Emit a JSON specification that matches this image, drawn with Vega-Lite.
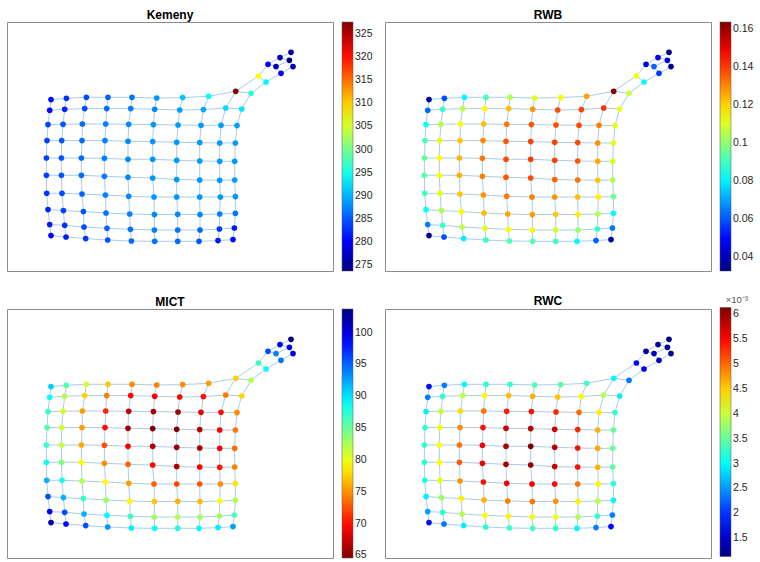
{
"$schema":"https://vega.github.io/schema/vega-lite/v6.json",
"padding":{"left":6,"top":8,"right":0,"bottom":0},
"config":{
 "view":{"stroke":"#8c8c8c","strokeWidth":1},
 "font":"Liberation Sans",
 "title":{"fontSize":12,"fontWeight":"bold","color":"#000000","offset":0},
 "legend":{"gradientLength":249,"gradientThickness":11,"labelFontSize":10.5,"labelColor":"#262626","labelOffset":4,"offset":9,"padding":0,"labelOverlap":false,"labelBaseline":"middle","gradientStrokeColor":"#555555","gradientStrokeWidth":0.5}
},
"datasets":{"nodes":[
{"r":1,"c":1,"x":44,"y":171.4,"kem":281.2,"rwb":0.0351,"mict":90.8,"rwc":0.00183},
{"r":1,"c":2,"x":59.4,"y":172.7,"kem":282.9,"rwb":0.0587,"mict":86.1,"rwc":0.00238},
{"r":1,"c":3,"x":79.4,"y":173.7,"kem":284.5,"rwb":0.081,"mict":81.0,"rwc":0.00298},
{"r":1,"c":4,"x":101,"y":173.7,"kem":285.6,"rwb":0.0915,"mict":77.1,"rwc":0.00323},
{"r":1,"c":5,"x":125,"y":173.7,"kem":286.6,"rwb":0.1047,"mict":74.8,"rwc":0.00328},
{"r":1,"c":6,"x":149.7,"y":173,"kem":288.3,"rwb":0.1112,"mict":74.4,"rwc":0.00338},
{"r":1,"c":7,"x":175.7,"y":173.4,"kem":290.9,"rwb":0.1152,"mict":74.8,"rwc":0.00343},
{"r":1,"c":8,"x":201.7,"y":174.7,"kem":294.2,"rwb":0.127,"mict":75.5,"rwc":0.00333},
{"r":1,"c":9,"x":228.7,"y":179.7,"kem":327.6,"rwb":0.1637,"mict":77.5,"rwc":0.00298},
{"r":1,"c":10,"x":244,"y":177.7,"kem":296.3,"rwb":0.1073,"mict":82.2,"rwc":0.00233},
{"r":2,"c":1,"x":42.7,"y":160.7,"kem":280.7,"rwb":0.0627,"mict":88.8,"rwc":0.00238},
{"r":2,"c":2,"x":57.7,"y":161.7,"kem":282.3,"rwb":0.0889,"mict":82.2,"rwc":0.00323},
{"r":2,"c":3,"x":77.7,"y":162.4,"kem":284.5,"rwb":0.106,"mict":77.5,"rwc":0.00394},
{"r":2,"c":4,"x":99.7,"y":162.4,"kem":286.1,"rwb":0.1152,"mict":74.4,"rwc":0.00429},
{"r":2,"c":5,"x":123.7,"y":162.4,"kem":287.2,"rwb":0.123,"mict":69.7,"rwc":0.00459},
{"r":2,"c":6,"x":147.7,"y":161.7,"kem":287.7,"rwb":0.1283,"mict":69.3,"rwc":0.00464},
{"r":2,"c":7,"x":172.7,"y":161,"kem":288.8,"rwb":0.1375,"mict":69.7,"rwc":0.00454},
{"r":2,"c":8,"x":196.4,"y":161.4,"kem":289.3,"rwb":0.1388,"mict":70.1,"rwc":0.00429},
{"r":2,"c":9,"x":218.7,"y":163,"kem":292.0,"rwb":0.1414,"mict":74.0,"rwc":0.00389},
{"r":2,"c":10,"x":234.7,"y":162,"kem":292.6,"rwb":0.1112,"mict":77.9,"rwc":0.00293},
{"r":3,"c":1,"x":41,"y":146.4,"kem":283.9,"rwb":0.0824,"mict":86.9,"rwc":0.00293},
{"r":3,"c":2,"x":56,"y":146.7,"kem":285.0,"rwb":0.1047,"mict":81.0,"rwc":0.00394},
{"r":3,"c":3,"x":75.4,"y":147,"kem":286.1,"rwb":0.1152,"mict":75.5,"rwc":0.00444},
{"r":3,"c":4,"x":98.7,"y":147,"kem":287.2,"rwb":0.123,"mict":70.9,"rwc":0.00494},
{"r":3,"c":5,"x":121.7,"y":146.7,"kem":287.7,"rwb":0.1322,"mict":67.3,"rwc":0.00539},
{"r":3,"c":6,"x":146.4,"y":146.4,"kem":288.3,"rwb":0.1361,"mict":66.2,"rwc":0.00544},
{"r":3,"c":7,"x":171,"y":146,"kem":288.5,"rwb":0.1375,"mict":65.8,"rwc":0.00534},
{"r":3,"c":8,"x":194,"y":145.7,"kem":288.5,"rwb":0.1375,"mict":68.5,"rwc":0.00499},
{"r":3,"c":9,"x":214,"y":145.7,"kem":288.8,"rwb":0.1309,"mict":70.1,"rwc":0.00434},
{"r":3,"c":10,"x":230,"y":145.4,"kem":288.8,"rwb":0.1112,"mict":74.8,"rwc":0.00323},
{"r":4,"c":1,"x":40,"y":130.4,"kem":283.9,"rwb":0.0915,"mict":86.1,"rwc":0.00323},
{"r":4,"c":2,"x":54.7,"y":130.4,"kem":285.0,"rwb":0.1112,"mict":81.0,"rwc":0.00424},
{"r":4,"c":3,"x":75,"y":130.4,"kem":286.1,"rwb":0.1217,"mict":75.5,"rwc":0.00484},
{"r":4,"c":4,"x":98,"y":130.4,"kem":287.2,"rwb":0.1296,"mict":70.1,"rwc":0.00544},
{"r":4,"c":5,"x":121,"y":129.7,"kem":287.7,"rwb":0.1361,"mict":66.2,"rwc":0.00579},
{"r":4,"c":6,"x":145.7,"y":129.4,"kem":288.3,"rwb":0.1388,"mict":64.6,"rwc":0.00584},
{"r":4,"c":7,"x":169.7,"y":128.7,"kem":288.5,"rwb":0.1388,"mict":64.6,"rwc":0.00579},
{"r":4,"c":8,"x":192.7,"y":128.4,"kem":288.5,"rwb":0.1375,"mict":66.6,"rwc":0.00534},
{"r":4,"c":9,"x":212.7,"y":128,"kem":288.5,"rwb":0.1283,"mict":69.3,"rwc":0.00464},
{"r":4,"c":10,"x":228.4,"y":128,"kem":288.5,"rwb":0.1112,"mict":74.0,"rwc":0.00348},
{"r":5,"c":1,"x":39.4,"y":113,"kem":283.9,"rwb":0.0942,"mict":86.9,"rwc":0.00323},
{"r":5,"c":2,"x":54.4,"y":113,"kem":285.0,"rwb":0.1138,"mict":81.4,"rwc":0.00424},
{"r":5,"c":3,"x":74.4,"y":113,"kem":286.1,"rwb":0.1243,"mict":75.9,"rwc":0.00494},
{"r":5,"c":4,"x":97.4,"y":112.7,"kem":287.2,"rwb":0.1322,"mict":72.4,"rwc":0.00554},
{"r":5,"c":5,"x":121,"y":111.7,"kem":287.7,"rwb":0.1375,"mict":69.3,"rwc":0.00594},
{"r":5,"c":6,"x":145.7,"y":111.7,"kem":288.3,"rwb":0.1401,"mict":66.2,"rwc":0.00614},
{"r":5,"c":7,"x":169.7,"y":110.7,"kem":288.5,"rwb":0.1388,"mict":65.4,"rwc":0.00584},
{"r":5,"c":8,"x":192.7,"y":110,"kem":288.5,"rwb":0.1361,"mict":66.2,"rwc":0.00544},
{"r":5,"c":9,"x":212.7,"y":109.7,"kem":288.5,"rwb":0.1257,"mict":69.3,"rwc":0.00469},
{"r":5,"c":10,"x":227.7,"y":109.7,"kem":288.5,"rwb":0.1086,"mict":73.6,"rwc":0.00353},
{"r":6,"c":1,"x":39.4,"y":95.7,"kem":283.9,"rwb":0.0929,"mict":88.5,"rwc":0.00323},
{"r":6,"c":2,"x":54.4,"y":95.7,"kem":285.0,"rwb":0.1138,"mict":84.2,"rwc":0.00424},
{"r":6,"c":3,"x":74.4,"y":95.7,"kem":286.1,"rwb":0.1243,"mict":79.1,"rwc":0.00504},
{"r":6,"c":4,"x":97.4,"y":94.7,"kem":287.2,"rwb":0.1309,"mict":74.8,"rwc":0.00554},
{"r":6,"c":5,"x":121,"y":93.7,"kem":287.7,"rwb":0.1361,"mict":73.2,"rwc":0.00594},
{"r":6,"c":6,"x":145.7,"y":93,"kem":288.3,"rwb":0.1375,"mict":69.7,"rwc":0.00599},
{"r":6,"c":7,"x":169.7,"y":91.4,"kem":288.5,"rwb":0.1348,"mict":66.2,"rwc":0.00579},
{"r":6,"c":8,"x":192.7,"y":91,"kem":288.5,"rwb":0.1322,"mict":69.3,"rwc":0.00544},
{"r":6,"c":9,"x":212.7,"y":90.7,"kem":288.5,"rwb":0.1217,"mict":70.1,"rwc":0.00464},
{"r":6,"c":10,"x":227.7,"y":91,"kem":288.5,"rwb":0.1047,"mict":74.4,"rwc":0.00348},
{"r":7,"c":1,"x":39.7,"y":77.7,"kem":283.4,"rwb":0.0902,"mict":92.0,"rwc":0.00318},
{"r":7,"c":2,"x":55,"y":77.7,"kem":284.5,"rwb":0.1112,"mict":88.1,"rwc":0.00414},
{"r":7,"c":3,"x":75,"y":77,"kem":285.6,"rwb":0.1217,"mict":82.2,"rwc":0.00479},
{"r":7,"c":4,"x":98.4,"y":76,"kem":287.2,"rwb":0.1283,"mict":79.1,"rwc":0.00544},
{"r":7,"c":5,"x":121.7,"y":74.7,"kem":287.7,"rwb":0.1322,"mict":75.5,"rwc":0.00554},
{"r":7,"c":6,"x":147,"y":74,"kem":288.3,"rwb":0.1309,"mict":73.2,"rwc":0.00554},
{"r":7,"c":7,"x":169.7,"y":74,"kem":288.3,"rwb":0.1283,"mict":72.4,"rwc":0.00549},
{"r":7,"c":8,"x":192.7,"y":74,"kem":288.3,"rwb":0.123,"mict":72.8,"rwc":0.00494},
{"r":7,"c":9,"x":213.4,"y":74,"kem":288.3,"rwb":0.1165,"mict":74.8,"rwc":0.00429},
{"r":7,"c":10,"x":228.4,"y":74.4,"kem":288.3,"rwb":0.0955,"mict":78.3,"rwc":0.00323},
{"r":8,"c":1,"x":41,"y":61.4,"kem":282.3,"rwb":0.0824,"mict":95.9,"rwc":0.00293},
{"r":8,"c":2,"x":56.4,"y":60.4,"kem":283.9,"rwb":0.1047,"mict":92.0,"rwc":0.00379},
{"r":8,"c":3,"x":76.4,"y":59.4,"kem":285.0,"rwb":0.1152,"mict":86.9,"rwc":0.00434},
{"r":8,"c":4,"x":99,"y":58,"kem":286.6,"rwb":0.123,"mict":83.0,"rwc":0.00464},
{"r":8,"c":5,"x":122.7,"y":57,"kem":287.2,"rwb":0.1257,"mict":79.1,"rwc":0.00489},
{"r":8,"c":6,"x":147.4,"y":56.4,"kem":287.7,"rwb":0.127,"mict":77.1,"rwc":0.00494},
{"r":8,"c":7,"x":170.7,"y":56.7,"kem":287.7,"rwb":0.1217,"mict":76.3,"rwc":0.00479},
{"r":8,"c":8,"x":193,"y":56.4,"kem":287.7,"rwb":0.1165,"mict":76.7,"rwc":0.00434},
{"r":8,"c":9,"x":212.7,"y":57,"kem":287.2,"rwb":0.1047,"mict":79.1,"rwc":0.00394},
{"r":8,"c":10,"x":228.4,"y":57.7,"kem":286.6,"rwb":0.0824,"mict":82.2,"rwc":0.00298},
{"r":9,"c":1,"x":42.7,"y":46.4,"kem":281.8,"rwb":0.0653,"mict":99.0,"rwc":0.00253},
{"r":9,"c":2,"x":57.7,"y":45.7,"kem":282.9,"rwb":0.0889,"mict":95.9,"rwc":0.00323},
{"r":9,"c":3,"x":77,"y":44,"kem":284.5,"rwb":0.106,"mict":92.0,"rwc":0.00389},
{"r":9,"c":4,"x":100,"y":42.7,"kem":285.6,"rwb":0.1112,"mict":89.2,"rwc":0.00424},
{"r":9,"c":5,"x":123.4,"y":41.7,"kem":286.6,"rwb":0.1152,"mict":86.9,"rwc":0.00429},
{"r":9,"c":6,"x":147.4,"y":41,"kem":287.2,"rwb":0.1152,"mict":83.0,"rwc":0.00429},
{"r":9,"c":7,"x":170.7,"y":41,"kem":286.6,"rwb":0.1086,"mict":82.2,"rwc":0.00419},
{"r":9,"c":8,"x":193,"y":41,"kem":286.1,"rwb":0.102,"mict":83.0,"rwc":0.00389},
{"r":9,"c":9,"x":212.4,"y":42,"kem":283.4,"rwb":0.0889,"mict":83.0,"rwc":0.00328},
{"r":9,"c":10,"x":227.4,"y":43,"kem":281.8,"rwb":0.064,"mict":86.1,"rwc":0.00238},
{"r":10,"c":1,"x":44,"y":35.4,"kem":280.7,"rwb":0.0351,"mict":101.7,"rwc":0.00183},
{"r":10,"c":2,"x":59,"y":34,"kem":281.8,"rwb":0.0587,"mict":98.6,"rwc":0.00233},
{"r":10,"c":3,"x":78.7,"y":32.4,"kem":283.4,"rwb":0.0797,"mict":95.9,"rwc":0.00293},
{"r":10,"c":4,"x":100.7,"y":31,"kem":285.0,"rwb":0.0889,"mict":93.1,"rwc":0.00323},
{"r":10,"c":5,"x":124.4,"y":30,"kem":286.1,"rwb":0.0915,"mict":89.6,"rwc":0.00328},
{"r":10,"c":6,"x":147.7,"y":29.7,"kem":286.6,"rwb":0.0929,"mict":88.8,"rwc":0.00333},
{"r":10,"c":7,"x":170.7,"y":29.7,"kem":286.1,"rwb":0.0902,"mict":88.1,"rwc":0.00323},
{"r":10,"c":8,"x":192,"y":29.7,"kem":285.0,"rwb":0.081,"mict":89.2,"rwc":0.00298},
{"r":10,"c":9,"x":211,"y":30.4,"kem":281.8,"rwb":0.0614,"mict":89.6,"rwc":0.00238},
{"r":10,"c":10,"x":226,"y":31.4,"kem":280.7,"rwb":0.0377,"mict":92.7,"rwc":0.00178},
{"r":0,"c":9,"x":251.4,"y":195,"kem":307.4,"rwb":0.1138,"mict":86.9,"rwc":0.00178},
{"r":0,"c":10,"x":259,"y":189,"kem":293.6,"rwb":0.081,"mict":88.8,"rwc":0.00173},
{"r":-1,"c":9,"x":261,"y":206.7,"kem":280.7,"rwb":0.0482,"mict":95.9,"rwc":0.00133},
{"r":-1,"c":9.5,"x":269,"y":204.4,"kem":276.4,"rwb":0.0614,"mict":93.9,"rwc":0.00138},
{"r":-1,"c":10,"x":274,"y":197.7,"kem":280.2,"rwb":0.0561,"mict":94.3,"rwc":0.00143},
{"r":-2,"c":9,"x":273,"y":213.4,"kem":275.9,"rwb":0.0469,"mict":99.0,"rwc":0.00128},
{"r":-2,"c":9.5,"x":282.4,"y":210.7,"kem":273.7,"rwb":0.0456,"mict":99.0,"rwc":0.00123},
{"r":-2,"c":10,"x":286,"y":204.4,"kem":276.9,"rwb":0.0364,"mict":100.6,"rwc":0.00118},
{"r":-3,"c":9,"x":284,"y":218.7,"kem":275.3,"rwb":0.0325,"mict":103.7,"rwc":0.00113}
]},
"columns":2,
"spacing":{"row":38,"column":52},
"bounds":"flush",
"resolve":{"scale":{"color":"independent"},"legend":{"color":"independent"}},
"concat":[
{"title":{"text":"Kemeny","offset":0},"width":326,"height":249,"data":{"name":"nodes"},
 "encoding":{"x":{"field":"x","type":"quantitative","scale":{"domain":[0,326]},"axis":null},"y":{"field":"y","type":"quantitative","scale":{"domain":[0,249]},"axis":null}},
 "layer":[
  {"mark":{"type":"line","stroke":"#a9cde8","strokeWidth":1},"encoding":{"detail":{"field":"r","type":"nominal"},"order":{"field":"c","type":"quantitative"}}},
  {"mark":{"type":"line","stroke":"#a9cde8","strokeWidth":1},"encoding":{"detail":{"field":"c","type":"nominal"},"order":{"field":"r","type":"quantitative"}}},
  {"mark":{"type":"circle","size":32,"opacity":1},"encoding":{"color":{"field":"kem","type":"quantitative","scale":{"domain":[273.7,280.4375,287.175,293.9125,300.65,307.3875,314.125,320.8625,327.6],"range":["#000080","#0000ff","#0080ff","#00ffff","#80ff80","#ffff00","#ff8000","#ff0000","#800000"],"interpolate":"rgb","nice":false,"zero":false},"legend":{"title":null,"values":[275,280,285,290,295,300,305,310,315,320,325],"labelExpr":"'' + datum.value"}}}}
 ]},
{"title":{"text":"RWB","offset":0},"width":326,"height":249,"data":{"name":"nodes"},
 "encoding":{"x":{"field":"x","type":"quantitative","scale":{"domain":[0,326]},"axis":null},"y":{"field":"y","type":"quantitative","scale":{"domain":[0,249]},"axis":null}},
 "layer":[
  {"mark":{"type":"line","stroke":"#a9cde8","strokeWidth":1},"encoding":{"detail":{"field":"r","type":"nominal"},"order":{"field":"c","type":"quantitative"}}},
  {"mark":{"type":"line","stroke":"#a9cde8","strokeWidth":1},"encoding":{"detail":{"field":"c","type":"nominal"},"order":{"field":"r","type":"quantitative"}}},
  {"mark":{"type":"circle","size":32,"opacity":1},"encoding":{"color":{"field":"rwb","type":"quantitative","scale":{"domain":[0.0325,0.0489,0.0653,0.0817,0.0981,0.1145,0.1309,0.1473,0.1637],"range":["#000080","#0000ff","#0080ff","#00ffff","#80ff80","#ffff00","#ff8000","#ff0000","#800000"],"interpolate":"rgb","nice":false,"zero":false},"legend":{"title":null,"values":[0.04,0.06,0.08,0.1,0.12,0.14,0.16],"labelExpr":"'' + datum.value"}}}}
 ]},
{"title":{"text":"MICT","offset":0},"width":326,"height":249,"data":{"name":"nodes"},
 "encoding":{"x":{"field":"x","type":"quantitative","scale":{"domain":[0,326]},"axis":null},"y":{"field":"y","type":"quantitative","scale":{"domain":[0,249]},"axis":null}},
 "layer":[
  {"mark":{"type":"line","stroke":"#a9cde8","strokeWidth":1},"encoding":{"detail":{"field":"r","type":"nominal"},"order":{"field":"c","type":"quantitative"}}},
  {"mark":{"type":"line","stroke":"#a9cde8","strokeWidth":1},"encoding":{"detail":{"field":"c","type":"nominal"},"order":{"field":"r","type":"quantitative"}}},
  {"mark":{"type":"circle","size":32,"opacity":1},"encoding":{"color":{"field":"mict","type":"quantitative","scale":{"domain":[64.6,69.4875,74.375,79.2625,84.15,89.0375,93.925,98.8125,103.7],"range":["#800000","#ff0000","#ff8000","#ffff00","#80ff80","#00ffff","#0080ff","#0000ff","#000080"],"interpolate":"rgb","nice":false,"zero":false},"legend":{"title":null,"values":[65,70,75,80,85,90,95,100],"labelExpr":"'' + datum.value"}}}}
 ]},
{"title":{"text":"RWC","offset":0,"dy":13},"width":326,"height":249,"data":{"name":"nodes"},
 "encoding":{"x":{"field":"x","type":"quantitative","scale":{"domain":[0,326]},"axis":null},"y":{"field":"y","type":"quantitative","scale":{"domain":[0,249]},"axis":null}},
 "layer":[
  {"mark":{"type":"line","stroke":"#a9cde8","strokeWidth":1},"encoding":{"detail":{"field":"r","type":"nominal"},"order":{"field":"c","type":"quantitative"}}},
  {"mark":{"type":"line","stroke":"#a9cde8","strokeWidth":1},"encoding":{"detail":{"field":"c","type":"nominal"},"order":{"field":"r","type":"quantitative"}}},
  {"mark":{"type":"circle","size":32,"opacity":1},"encoding":{"color":{"field":"rwc","type":"quantitative","scale":{"domain":[0.00113,0.00175625,0.0023825,0.00300875,0.003635,0.00426125,0.0048875,0.00551375,0.00614],"range":["#000080","#0000ff","#0080ff","#00ffff","#80ff80","#ffff00","#ff8000","#ff0000","#800000"],"interpolate":"rgb","nice":false,"zero":false},"legend":{"title":"×10⁻³","titleAnchor":"end","titleFontSize":9.5,"titleFontWeight":"normal","titleColor":"#555555","titlePadding":3,"orient":"none","legendX":335,"legendY":-14,"values":[0.0015,0.002,0.0025,0.003,0.0035,0.004,0.0045,0.005,0.0055,0.006],"labelExpr":"format(datum.value*1000,'~g')"}}}}
 ]}
]
}
